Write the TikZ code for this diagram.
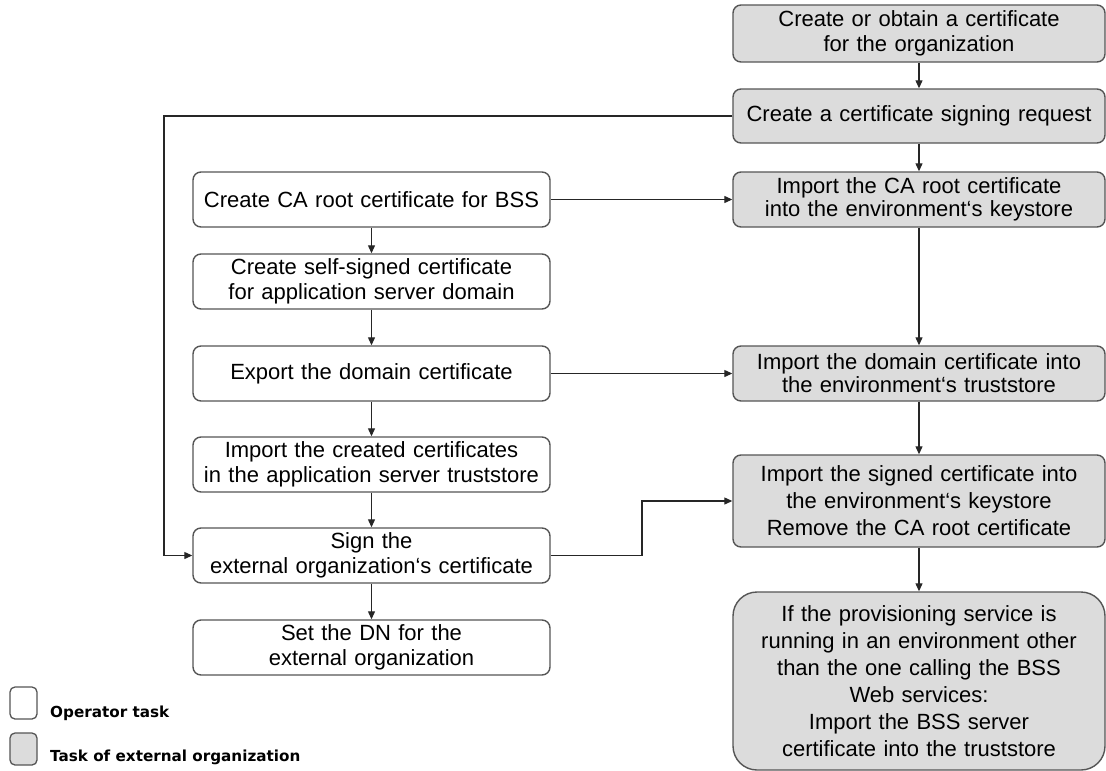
\documentclass[tikz,border=0pt]{standalone}
\usepackage{fontspec}
\setmainfont{Liberation Sans}
\newfontfamily\legendfont{DejaVu Sans}
\usetikzlibrary{arrows.meta}

\definecolor{boxline}{HTML}{555555}
\definecolor{extfill}{HTML}{DCDCDC}
\definecolor{wire}{HTML}{262626}

\tikzset{
  taskbox/.style={draw=boxline, line width=1.4pt, rounded corners=8pt,
    inner sep=0pt, align=center, font=\fontsize{22}{25.5}\selectfont},
  optask/.style={taskbox, fill=white},
  exttask/.style={taskbox, fill=extfill},
  leftcol/.style={text width=357pt, minimum height=55pt},
  rightcol/.style={text width=372pt},
  arr/.style={draw=wire, line width=1.2pt, -{Triangle[length=8pt,width=7pt]}},
  legendbox/.style={draw=boxline, line width=1.3pt, rounded corners=5pt,
    minimum width=27pt, minimum height=32pt, inner sep=0pt},
  legendtext/.style={font=\legendfont\bfseries\fontsize{15.2}{18}\selectfont,
    anchor=base west, inner sep=0pt}
}

\begin{document}
\begin{tikzpicture}[x=1pt,y=-1pt]
\useasboundingbox (0,0) rectangle (1106,771);

% operator tasks (left column)
\node[optask, leftcol] (A) at (371.5,199.5) {Create CA root certificate for BSS};
\node[optask, leftcol] (B) at (371.5,281.5) {Create self-signed certificate\\for application server domain};
\node[optask, leftcol] (C) at (371.5,373.5) {Export the domain certificate};
\node[optask, leftcol] (D) at (371.5,464.5) {Import the created certificates\\in the application server truststore};
\node[optask, leftcol] (E) at (371.5,555.5) {Sign the\\external organization‘s certificate};
\node[optask, leftcol] (F) at (371.5,647.5) {Set the DN for the\\external organization};

% tasks of the external organization (right column)
\node[exttask, rightcol, minimum height=57pt] (R1) at (919,33.5) {Create or obtain a certificate\\for the organization};
\node[exttask, rightcol, minimum height=54pt] (R2) at (919,116) {Create a certificate signing request};
\node[exttask, rightcol, minimum height=55pt, font=\fontsize{22}{23}\selectfont] (R3) at (919,199.5) {Import the CA root certificate\\into the environment‘s keystore};
\node[exttask, rightcol, minimum height=55pt, font=\fontsize{22}{23}\selectfont] (R4) at (919,373.5) {Import the domain certificate into\\the environment‘s truststore};
\node[exttask, rightcol, minimum height=92pt, font=\fontsize{22}{27}\selectfont] (R5) at (919,501) {Import the signed certificate into\\the environment‘s keystore\\Remove the CA root certificate};
\node[exttask, rightcol, minimum height=178pt, rounded corners=24pt, font=\fontsize{22}{27}\selectfont] (R6) at (919,681)
  {If the provisioning service is\\running in an environment other\\than the one calling the BSS\\Web services:\\Import the BSS server\\certificate into the truststore};

% left column sequence
\draw[arr] (A) -- (B);
\draw[arr] (B) -- (C);
\draw[arr] (C) -- (D);
\draw[arr] (D) -- (E);
\draw[arr] (E) -- (F);

% right column sequence
\draw[arr] (R1) -- (R2);
\draw[arr] (R2) -- (R3);
\draw[arr] (R3) -- (R4);
\draw[arr] (R4) -- (R5);
\draw[arr] (R5) -- (R6);

% cross links
\draw[arr] (A.east) -- (R3.west);
\draw[arr] (C.east) -- (R4.west);
\coordinate (jog) at (642,501);
\draw[arr] (E.east) -| (jog) -- (R5.west);
\coordinate (loop) at (164,0);
\draw[arr] (R2.west) -| (loop |- E.west) -- (E.west);

% legend
\node[legendbox, fill=white] (L1) at (23.5,703) {};
\node[legendbox, fill=extfill] (L2) at (23.5,749) {};
\node[legendtext] (L1t) at (50,717) {Operator task};
\node[legendtext] (L2t) at (50,761) {Task of external organization};
\end{tikzpicture}
\end{document}
